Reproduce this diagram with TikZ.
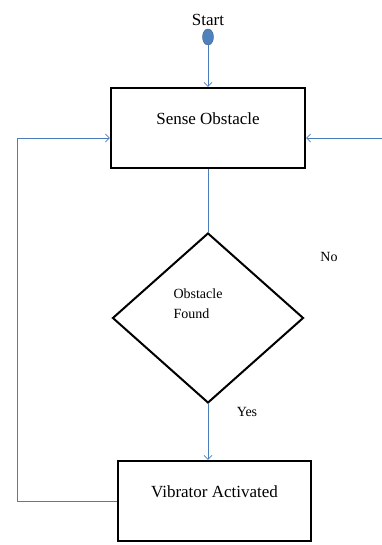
\documentclass[tikz,border=0pt]{standalone}
\usepackage{fontspec}
\setmainfont{Liberation Serif}
\usepackage{xcolor}
\usetikzlibrary{shapes.geometric,arrows.meta,positioning,calc}

\definecolor{flowblue}{HTML}{4A7EBB}
\definecolor{dotblue}{HTML}{4F81BD}

\begin{document}
\begin{tikzpicture}[
    x=1pt, y=1pt,
    font=\fontsize{14}{20}\selectfont,
    block/.style={rectangle, draw, line width=2.4pt, minimum width=193pt, minimum height=80pt, text centered, text height=12pt, text depth=19pt, font=\fontsize{17}{20}\selectfont},
    decision/.style={diamond, draw, line width=2pt, minimum width=191pt, minimum height=170pt, inner sep=0pt},
    startdot/.style={ellipse, draw=flowblue!80!black, fill=dotblue, minimum width=11pt, minimum height=16pt, inner sep=0pt},
    arrow/.style={-{Straight Barb[length=4pt,width=8pt]}, flowblue, line width=0.7pt},
    flowline/.style={flowblue, line width=0.7pt}
]
\useasboundingbox (0,0) rectangle (382,545);

\node[startdot] (start) at (208,508) {};
\node[above=0pt of start, font=\fontsize{17}{20}\selectfont] (startlabel) {Start};
\node[block, minimum width=194pt] (sense) at (208,417) {Sense Obstacle};
\node[decision] (found) at (208,227) {};
\node[align=left] (foundtext) at (198,241) {Obstacle\\Found};
\node[block] (vibrate) at (214.5,44) {Vibrator Activated};

\node (yes) at (247,133) {Yes};
\node (no) at (329,288) {No};

\coordinate (loopleft) at (17,407);
\coordinate (noin) at (382,407);

\draw[arrow] (start) -- (sense);
\draw[flowline] (sense.south -| found.north) -- (found.north);
\draw[arrow] (found.south) -- (found.south |- vibrate.north);
\draw[arrow] (vibrate.west) -| (loopleft) -- ([yshift=-10pt]sense.west);
\draw[arrow] (noin) -- ([yshift=-10pt]sense.east);

\end{tikzpicture}
\end{document}
